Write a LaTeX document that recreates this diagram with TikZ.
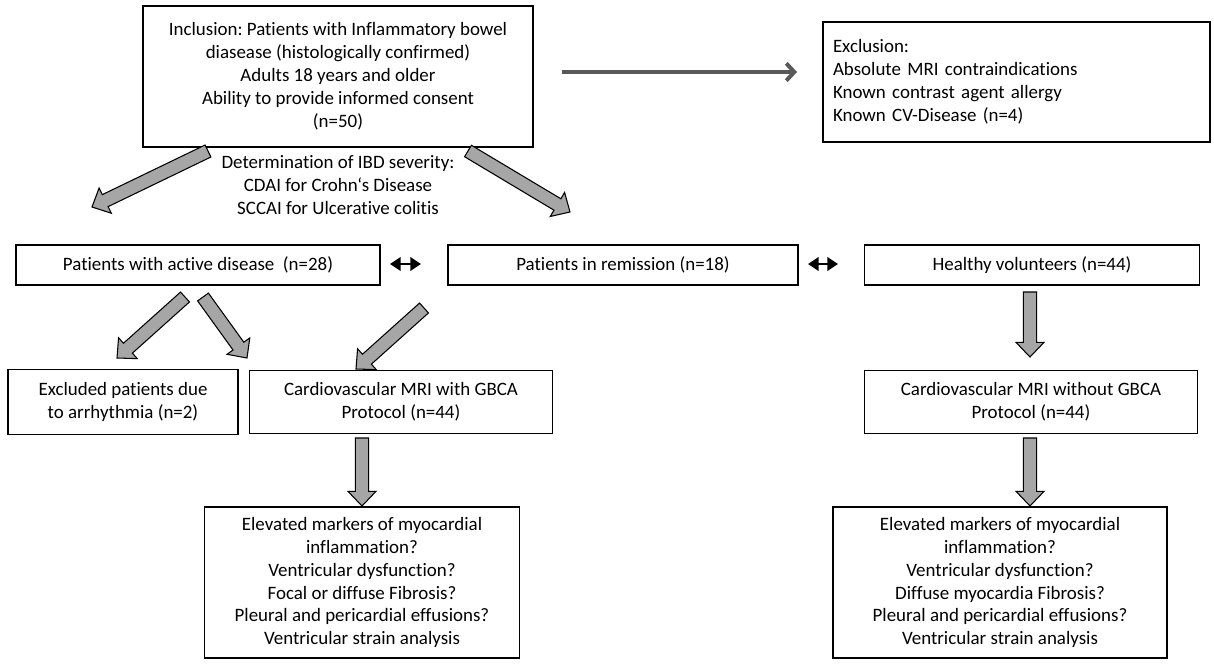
\documentclass[tikz,border=0pt]{standalone}
\usepackage{fontspec}
\setmainfont[Ligatures=NoCommon]{Carlito}
\usetikzlibrary{calc}
\usetikzlibrary{arrows.meta}

% grey block arrow with black outline, from #1 to #2
\newcommand{\fatarrow}[2]{%
  \coordinate (fab) at ($(#2)!11pt!(#1)$);
  \draw[fatarr] ($(#1)!5pt!90:(#2)$) -- ($(fab)!5pt!90:(#2)$) -- ($(fab)!10.5pt!90:(#2)$) -- (#2)
    -- ($(fab)!10.5pt!-90:(#2)$) -- ($(fab)!5pt!-90:(#2)$) -- ($(#1)!5pt!-90:(#2)$) -- cycle;}

\begin{document}
\frenchspacing
\begin{tikzpicture}[x=0.75pt,y=-0.75pt,
  every node/.append style={font=\fontsize{14.2}{17.2}\selectfont},
  box/.style={draw,line width=1.4pt,align=center,inner sep=0pt},
  fatarr/.style={fill=black!35,draw=black,line width=0.8pt,line join=miter},
  thinarr/.style={draw=black!65,line width=3pt,-{Straight Barb[length=6pt,width=13pt]}},
  dblarr/.style={line width=2.2pt,{Triangle[length=8pt,width=10pt]}-{Triangle[length=8pt,width=10pt]}}]

\useasboundingbox (0,0) rectangle (1214,667);

  \node[box,minimum width=292.5pt,minimum height=105.75pt] (incl) at (338,76.5)
    {Inclusion: Patients with Inflammatory bowel\\ diasease (histologically confirmed)\\
     Adults 18 years and older\\ Ability to provide informed consent\\ (n=50)};
  \node[box,align=left,text width=275.25pt,inner xsep=7.5pt,minimum height=90pt] (excl) at (1016.5,82)
    {Exclusion:\\ Absolute MRI contraindications\\ Known contrast agent allergy\\ Known CV-Disease (n=4)};
  \node[align=center] (sev) at (338,185)
    {Determination of IBD severity:\\ CDAI for Crohn‘s Disease\\ SCCAI for Ulcerative colitis};

  \node[box,minimum width=273pt,minimum height=30pt] (act) at (198,265) {Patients with active disease~~(n=28)};
  \node[box,minimum width=262.5pt,minimum height=30pt] (rem) at (623,265) {Patients in remission (n=18)};
  \node[box,minimum width=251.25pt,minimum height=30pt] (hv) at (1032,265) {Healthy volunteers (n=44)};

  \node[box,minimum width=172.5pt,minimum height=48.75pt] (arr) at (123,402)
    {Excluded patients due\\ to arrhythmia (n=2)};
  \node[box,minimum width=227.25pt,minimum height=47.25pt] (mri) at (401,402)
    {Cardiovascular MRI with GBCA\\ Protocol (n=44)};
  \node[box,minimum width=249.75pt,minimum height=47.25pt] (mrinc) at (1031,402)
    {Cardiovascular MRI without GBCA\\ Protocol (n=44)};

  \node[box,minimum width=236.25pt,minimum height=113.25pt] (outa) at (362,582.5)
    {Elevated markers of myocardial\\ inflammation?\\ Ventricular dysfunction?\\
     Focal or diffuse Fibrosis?\\ Pleural and pericardial effusions?\\ Ventricular strain analysis};
  \node[box,minimum width=250.5pt,minimum height=113.25pt] (outb) at (1000,582.5)
    {Elevated markers of myocardial\\ inflammation?\\ Ventricular dysfunction?\\
     Diffuse myocardia Fibrosis?\\ Pleural and pericardial effusions?\\ Ventricular strain analysis};

  % arrow ends
  \coordinate (t1) at (562,72);
  \coordinate (t2) at (797,72);
  \coordinate (a1) at (208,151);
  \coordinate (a1e) at (92,207);
  \coordinate (a2) at (468,151);
  \coordinate (a2e) at (570,212);
  \coordinate (b1) at (185,297);
  \coordinate (b1e) at (117,358);
  \coordinate (b2) at (203,297);
  \coordinate (b2e) at (247,358);
  \coordinate (b3) at (424,308);
  \coordinate (b3e) at (356,369);
  \coordinate (b4) at (1030,292);
  \coordinate (b4e) at (1030,357);
  \coordinate (c1) at (362,438);
  \coordinate (c1e) at (362,506);
  \coordinate (c2) at (1030,438);
  \coordinate (c2e) at (1030,506);
  \coordinate (d1) at (390,264);
  \coordinate (d1e) at (421,264);
  \coordinate (d2) at (808,264);
  \coordinate (d2e) at (838,264);

  \draw[thinarr] (t1) -- (t2);

  \fatarrow{a1}{a1e}
  \fatarrow{a2}{a2e}
  \fatarrow{b1}{b1e}
  \fatarrow{b2}{b2e}
  \fatarrow{b3}{b3e}
  \fatarrow{b4}{b4e}
  \fatarrow{c1}{c1e}
  \fatarrow{c2}{c2e}

  \draw[dblarr] (d1) -- (d1e);
  \draw[dblarr] (d2) -- (d2e);

\end{tikzpicture}
\end{document}
